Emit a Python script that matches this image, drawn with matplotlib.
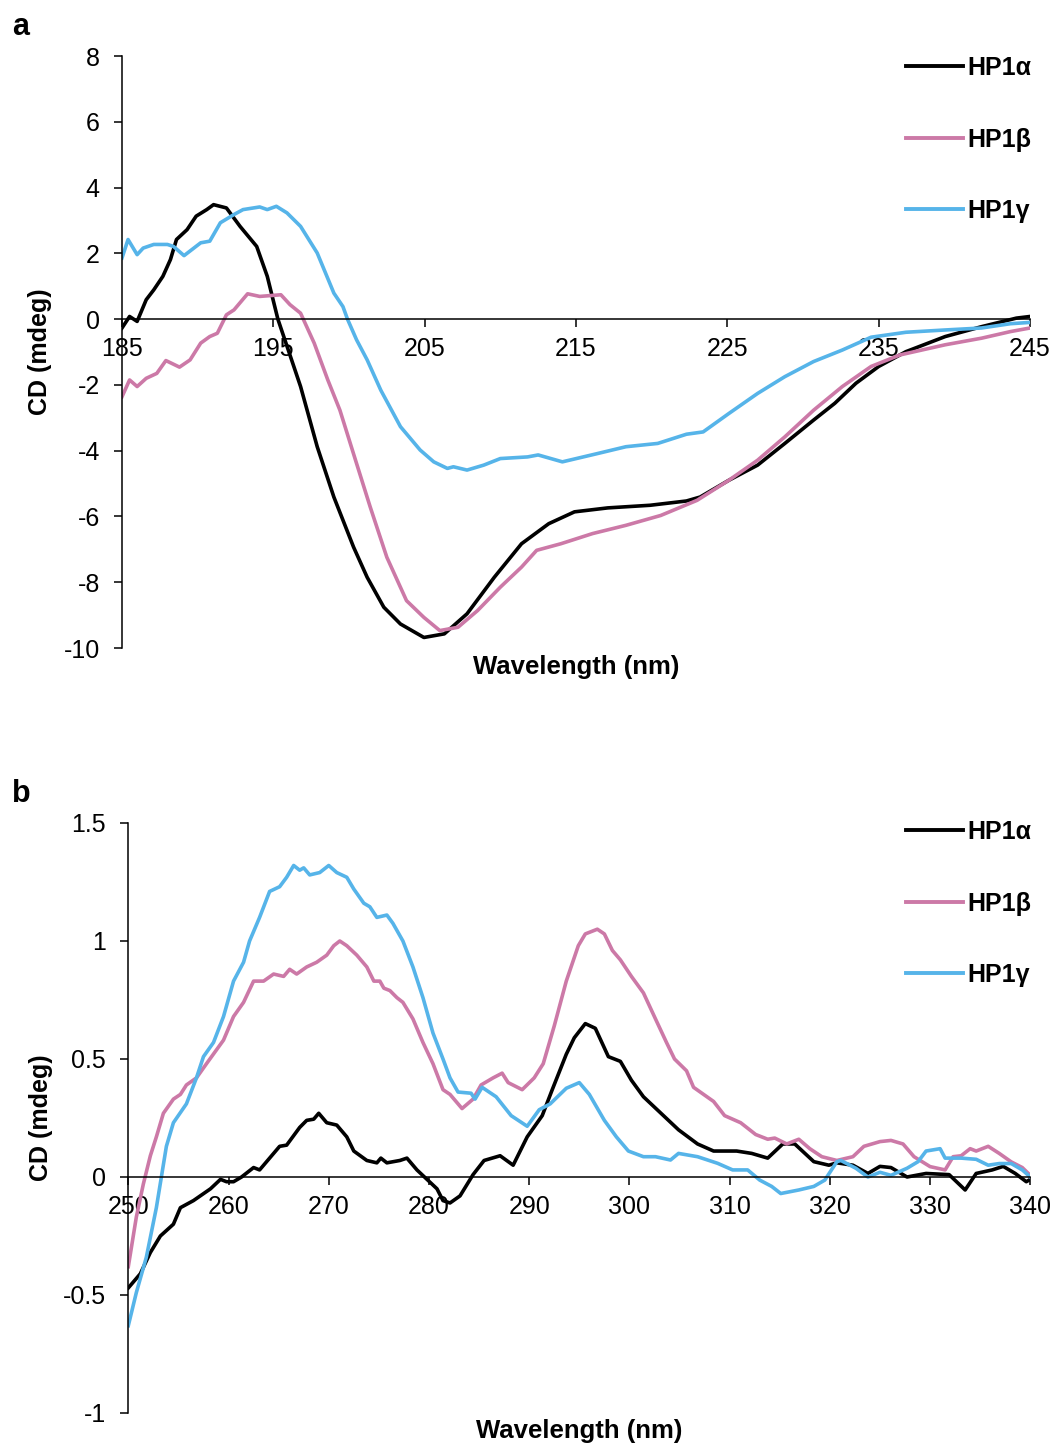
import matplotlib
matplotlib.use("Agg")
import matplotlib.pyplot as plt
from matplotlib.ticker import FuncFormatter

plt.rcParams['font.family'] = ['Liberation Sans', 'DejaVu Sans']

names = ["HP1\u03b1", "HP1\u03b2", "HP1\u03b3"]
colors = ["#000000", "#CC79A7", "#56B4E9"]

# ---- panel a: far-UV CD ----
a_wl_alpha = [185, 185.5, 186, 186.6, 187.1, 187.7, 188.2, 188.6, 189.3, 189.9,
              190.6, 191.05, 191.9, 192.8, 193.9, 194.6, 195.3, 196.8, 197.9, 199.0,
              200.3, 201.2, 202.3, 203.4, 204.95, 206.3, 207.8, 209.6, 211.4, 213.2,
              214.9, 217.1, 219.9, 222.3, 223.2, 225.1, 227.0, 228.8, 230.7, 232.1,
              233.5, 235.0, 236.8, 239.4, 241.8, 244.1, 245]
a_cd_alpha = [-0.27, 0.08, -0.07, 0.59, 0.89, 1.3, 1.81, 2.42, 2.72, 3.13,
              3.33, 3.48, 3.38, 2.82, 2.21, 1.3, 0.0, -2.05, -3.88, -5.41,
              -6.93, -7.85, -8.76, -9.27, -9.68, -9.57, -8.96, -7.85, -6.83, -6.22,
              -5.86, -5.74, -5.66, -5.53, -5.41, -4.9, -4.44, -3.78, -3.07, -2.56,
              -1.95, -1.44, -0.99, -0.53, -0.23, 0.03, 0.08]

a_wl_beta = [185, 185.5, 186.0, 186.6, 187.3, 187.9, 188.8, 189.5, 190.2, 190.8,
             191.3, 191.9, 192.4, 193.3, 194.1, 195.5, 196.1, 196.8, 197.7, 198.6,
             199.4, 200.5, 201.4, 202.5, 203.8, 204.95, 206.0, 207.2, 208.5, 210.0,
             211.4, 212.4, 214.0, 216.1, 218.3, 220.6, 223.0, 225.1, 227.0, 228.8,
             230.7, 232.6, 234.5, 236.4, 239.4, 241.8, 243.7, 245]
a_cd_beta = [-2.36, -1.85, -2.05, -1.8, -1.65, -1.26, -1.46, -1.24, -0.73, -0.53,
             -0.43, 0.13, 0.28, 0.77, 0.69, 0.74, 0.44, 0.18, -0.73, -1.85,
             -2.77, -4.39, -5.71, -7.24, -8.56, -9.07, -9.47, -9.37, -8.86, -8.15,
             -7.54, -7.03, -6.83, -6.52, -6.27, -5.97, -5.51, -4.9, -4.29, -3.58,
             -2.77, -2.05, -1.44, -1.09, -0.78, -0.58, -0.38, -0.27]

a_wl_gamma = [185, 185.4, 186.0, 186.4, 187.1, 188.0, 188.4, 189.1, 190.2, 190.8,
              191.5, 192.4, 193.0, 194.1, 194.6, 195.2, 195.9, 196.8, 197.9, 199.0,
              199.6, 199.9, 200.5, 201.2, 202.1, 203.4, 204.7, 205.6, 206.5, 206.9,
              207.8, 208.9, 210.0, 211.8, 212.5, 214.1, 216.4, 218.3, 220.4, 222.3,
              223.4, 225.1, 227.0, 228.8, 230.7, 232.6, 234.5, 236.8, 239.4, 241.8,
              243.7, 245]
a_cd_gamma = [1.86, 2.42, 1.96, 2.16, 2.27, 2.27, 2.21, 1.93, 2.32, 2.37,
              2.93, 3.18, 3.33, 3.41, 3.33, 3.43, 3.23, 2.82, 2.01, 0.79,
              0.38, 0.0, -0.63, -1.24, -2.16, -3.27, -3.98, -4.34, -4.54, -4.49,
              -4.59, -4.44, -4.24, -4.19, -4.13, -4.34, -4.09, -3.88, -3.78, -3.5,
              -3.43, -2.87, -2.26, -1.75, -1.29, -0.94, -0.55, -0.4, -0.33, -0.27,
              -0.14, -0.1]

# ---- panel b: near-UV CD ----
b_wl_alpha = [250, 251.2, 252.2, 253.2, 254.5, 255.2, 256.5, 258.2, 259.2, 259.8,
              260.5, 261.3, 262.5, 263.1, 264.1, 265.1, 265.8, 267.1, 267.8, 268.5,
              269.0, 269.8, 270.8, 271.8, 272.5, 273.8, 274.8, 275.2, 275.8, 277.1,
              277.8, 278.8, 279.8, 280.8, 281.4, 282.1, 283.1, 284.4, 285.5, 287.1,
              288.4, 289.8, 291.3, 292.3, 293.7, 294.5, 295.6, 296.6, 297.9, 299.1,
              300.2, 301.4, 302.9, 304.9, 306.8, 308.4, 310.7, 312.2, 313.8, 315.3,
              316.5, 318.4, 319.9, 320.7, 322.3, 323.8, 325.0, 326.1, 327.7, 329.6,
              331.9, 333.5, 334.6, 336.2, 337.3, 338.5, 339.6, 340]
b_cd_alpha = [-0.47, -0.41, -0.32, -0.25, -0.2, -0.13, -0.10, -0.05, -0.01, -0.02,
              -0.02, 0.0, 0.04, 0.03, 0.08, 0.13, 0.135, 0.21, 0.24, 0.245,
              0.27, 0.23, 0.22, 0.17, 0.11, 0.07, 0.06, 0.08, 0.06, 0.07,
              0.08, 0.03, -0.01, -0.05, -0.10, -0.11, -0.08, 0.01, 0.07, 0.09,
              0.05, 0.17, 0.26, 0.37, 0.52, 0.59, 0.65, 0.63, 0.51, 0.49,
              0.41, 0.34, 0.28, 0.20, 0.14, 0.11, 0.11, 0.10, 0.08, 0.14,
              0.14, 0.065, 0.05, 0.06, 0.05, 0.015, 0.045, 0.04, 0.0, 0.015,
              0.01, -0.055, 0.015, 0.03, 0.045, 0.015, -0.02, -0.01]

b_wl_beta = [250, 250.8, 251.5, 252.2, 252.8, 253.5, 254.5, 255.2, 255.8, 256.8,
             257.8, 259.5, 260.5, 261.5, 262.5, 263.5, 264.5, 265.5, 266.1, 266.8,
             267.8, 268.8, 269.8, 270.5, 271.1, 271.8, 272.8, 273.8, 274.5, 275.1,
             275.5, 276.1, 276.8, 277.4, 278.4, 279.4, 280.4, 281.4, 282.1, 283.3,
             284.4, 285.2, 286.4, 287.3, 287.9, 289.3, 290.5, 291.4, 292.5, 293.7,
             294.9, 295.6, 296.8, 297.5, 298.3, 299.1, 300.2, 301.4, 302.6, 303.7,
             304.5, 305.7, 306.4, 308.4, 309.5, 311.1, 312.6, 313.8, 314.5, 315.7,
             316.9, 318.0, 319.2, 320.7, 322.3, 323.4, 325.0, 326.1, 327.3, 328.4,
             330.0, 331.5, 332.3, 333.1, 334.0, 334.6, 335.8, 336.9, 338.1, 339.2,
             340]
b_cd_beta = [-0.38, -0.17, -0.03, 0.09, 0.17, 0.27, 0.33, 0.35, 0.39, 0.42,
             0.48, 0.58, 0.68, 0.74, 0.83, 0.83, 0.86, 0.85, 0.88, 0.86,
             0.89, 0.91, 0.94, 0.98, 1.0, 0.98, 0.94, 0.89, 0.83, 0.83,
             0.80, 0.79, 0.76, 0.74, 0.67, 0.57, 0.48, 0.37, 0.35, 0.29,
             0.33, 0.39, 0.42, 0.44, 0.40, 0.37, 0.42, 0.48, 0.64, 0.83,
             0.98, 1.03, 1.05, 1.03, 0.96, 0.92, 0.85, 0.78, 0.67, 0.57,
             0.50, 0.45, 0.38, 0.32, 0.26, 0.23, 0.18, 0.16, 0.165, 0.14,
             0.16, 0.12, 0.086, 0.07, 0.086, 0.13, 0.15, 0.155, 0.14, 0.086,
             0.044, 0.03, 0.086, 0.09, 0.12, 0.11, 0.13, 0.10, 0.064, 0.04,
             0.007]

b_wl_gamma = [250, 250.8, 251.8, 252.8, 253.3, 253.8, 254.5, 255.8, 256.8, 257.5,
              258.5, 259.5, 260.5, 261.5, 262.1, 263.1, 264.1, 265.1, 265.8, 266.5,
              267.1, 267.5, 268.1, 269.1, 270.0, 270.8, 271.8, 272.5, 273.5, 274.1,
              274.8, 275.8, 276.4, 277.4, 278.4, 279.4, 280.4, 281.4, 282.1, 282.9,
              284.2, 284.6, 285.3, 286.7, 288.2, 289.8, 291.0, 292.1, 293.7, 295.0,
              296.0, 297.5, 298.7, 299.9, 301.4, 302.6, 304.1, 304.9, 306.8, 308.8,
              310.3, 311.8, 313.0, 314.2, 315.1, 316.9, 318.4, 319.5, 320.7, 321.1,
              322.6, 323.8, 325.0, 326.1, 327.7, 328.8, 329.6, 331.0, 331.5, 333.1,
              334.6, 335.8, 336.9, 338.1, 339.2, 340]
b_cd_gamma = [-0.63, -0.49, -0.34, -0.13, 0.0, 0.13, 0.23, 0.31, 0.42, 0.51,
              0.57, 0.68, 0.83, 0.91, 1.0, 1.10, 1.21, 1.23, 1.27, 1.32,
              1.30, 1.31, 1.28, 1.29, 1.32, 1.29, 1.27, 1.22, 1.16, 1.145,
              1.10, 1.11, 1.075, 1.0, 0.89, 0.76, 0.61, 0.50, 0.42, 0.36,
              0.355, 0.33, 0.38, 0.34, 0.26, 0.215, 0.285, 0.31, 0.376, 0.40,
              0.35, 0.24, 0.17, 0.11, 0.086, 0.086, 0.072, 0.10, 0.086, 0.058,
              0.03, 0.03, -0.013, -0.04, -0.07, -0.055, -0.04, -0.013, 0.065, 0.07,
              0.037, 0.0, 0.02, 0.007, 0.037, 0.065, 0.11, 0.12, 0.08, 0.08,
              0.075, 0.05, 0.057, 0.057, 0.03, 0.0]

a_xticks = [185, 195, 205, 215, 225, 235, 245]
a_yticks = [8, 6, 4, 2, 0, -2, -4, -6, -8, -10]
b_xticks = [250, 260, 270, 280, 290, 300, 310, 320, 330, 340]
b_yticks = [1.5, 1, 0.5, 0, -0.5, -1]

fig = plt.figure(figsize=(10.54, 14.48), dpi=100)
ax1 = fig.add_axes([122/1054, 1 - 648/1448, 908/1054, 592/1448])
ax2 = fig.add_axes([128.3/1054, 1 - 1413/1448, 902/1054, 590/1448])


def style_axes(ax, xticks, yticks, xlim, ylim, legend_top, xlab_y, ylab_x):
    ax.set_xlim(xlim)
    ax.set_ylim(ylim)
    ax.set_xticks(xticks)
    ax.set_yticks(yticks)
    ax.yaxis.set_major_formatter(FuncFormatter(lambda v, p: "%g" % v))
    ax.spines['top'].set_visible(False)
    ax.spines['right'].set_visible(False)
    ax.spines['bottom'].set_position(('data', 0))
    for s in ('left', 'bottom'):
        ax.spines[s].set_linewidth(1.1)
    ax.tick_params(axis='both', direction='out', length=6, width=1.1,
                   labelsize=18)
    ax.tick_params(axis='y', pad=10)
    ax.tick_params(axis='x', pad=7)
    ax.set_xlabel("Wavelength (nm)", fontsize=18.5, fontweight='bold')
    ax.xaxis.set_label_coords(0.5, xlab_y)
    ax.set_ylabel("CD (mdeg)", fontsize=18, fontweight='bold')
    ax.yaxis.set_label_coords(ylab_x, 0.5)
    leg = ax.legend(loc='upper right', bbox_to_anchor=(1031/1054, legend_top),
                    bbox_transform=fig.transFigure, frameon=False,
                    fontsize=18, handlelength=2.3, handletextpad=0.15,
                    labelspacing=1.9, borderpad=0, borderaxespad=0)
    for t in leg.get_texts():
        t.set_fontweight('bold')
    for h in leg.get_lines():
        h.set_linewidth(2.8)


for wl, cd, n, c in zip([a_wl_alpha, a_wl_beta, a_wl_gamma],
                        [a_cd_alpha, a_cd_beta, a_cd_gamma], names, colors):
    ax1.plot(wl, cd, color=c, lw=2.6, label=n)

for wl, cd, n, c in zip([b_wl_alpha, b_wl_beta, b_wl_gamma],
                        [b_cd_alpha, b_cd_beta, b_cd_gamma], names, colors):
    ax2.plot(wl, cd, color=c, lw=2.6, label=n)

style_axes(ax1, a_xticks, a_yticks, (185, 245), (-10, 8), 1 - 56/1448,
           -0.012, -0.077)
style_axes(ax2, b_xticks, b_yticks, (250, 340), (-1, 1.5), 1 - 820/1448,
           -0.010, -0.084)

fig.text(12/1054, 1 - 35/1448, "a", fontsize=22, fontweight='bold', va='baseline')
fig.text(12/1054, 1 - 802/1448, "b", fontsize=22, fontweight='bold', va='baseline')

fig.savefig("out.png", dpi=100)
